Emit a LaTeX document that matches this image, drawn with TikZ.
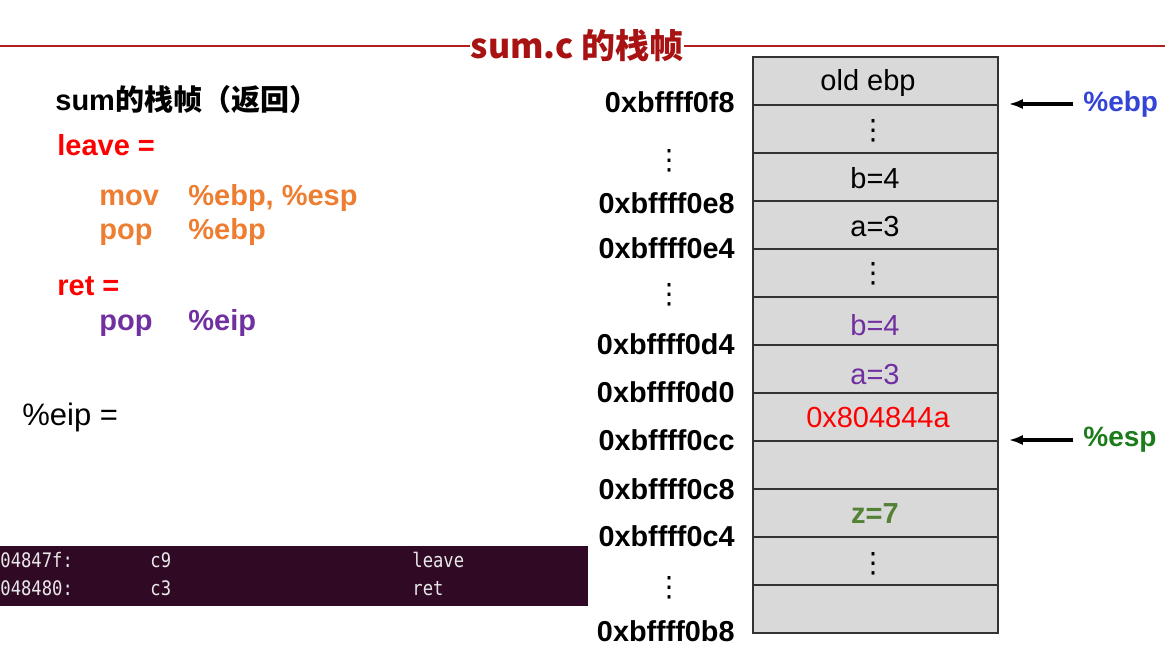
\documentclass[tikz,border=0pt]{standalone}
\usepackage{fontspec}
\setmainfont{Liberation Sans}
\newfontfamily\cjk{Noto Sans CJK SC}
\newfontfamily\codefont{DejaVu Sans Mono}[FakeStretch=0.86]
\newfontfamily\dotfont{DejaVu Sans}
\usetikzlibrary{arrows.meta}
\definecolor{titlered}{HTML}{A81212}
\definecolor{rulered}{HTML}{B42020}
\definecolor{cellgray}{HTML}{D9D9D9}
\definecolor{leaveorange}{HTML}{ED7D31}
\definecolor{retpurple}{HTML}{7030A0}
\definecolor{ebpblue}{HTML}{3344D6}
\definecolor{espgreen}{HTML}{1C7C1C}
\definecolor{zgreen}{HTML}{548235}
\definecolor{termbg}{HTML}{300A24}
\definecolor{termfg}{HTML}{E8E8E8}

\begin{document}
\begin{tikzpicture}[x=0.5pt,y=-0.5pt]
\tikzstyle{every node}+=[inner sep=0pt]
\tikzstyle{cell}=[draw=black!80,fill=cellgray,line width=0.75pt,minimum width=122.5pt,minimum height=24pt]
\tikzstyle{val}=[anchor=base,font=\fontsize{14.5}{17}\selectfont]
\tikzstyle{gap}=[font=\fontsize{14}{17}\selectfont\dotfont]
\tikzstyle{addr}=[anchor=base east,font=\fontsize{14.4}{17}\selectfont\bfseries]
\tikzstyle{asm}=[anchor=base west,font=\fontsize{14.5}{17}\selectfont\bfseries]
\tikzstyle{reg}=[anchor=west,inner sep=5pt,font=\fontsize{14}{17}\selectfont\bfseries]
\tikzstyle{ptr}=[-{Latex[length=7pt,width=5pt]},line width=1.6pt,shorten >=5pt]
\tikzstyle{code}=[anchor=base west,text=termfg,font=\fontsize{10}{12}\selectfont\codefont]
\useasboundingbox (0,0) rectangle (1165,671);
\node[text=titlered,font=\fontsize{17}{20}\selectfont\cjk\bfseries] (title) at (577,46) {sum.c 的栈帧};
\draw[rulered,line width=1pt] (0,46) -- (title.west);
\draw[rulered,line width=1pt] (title.east) -- (1165,46);
\foreach \i in {1,...,12}
  \node[cell] (r\i) at (875.5,{33+48*\i}) {};
\node[val] (oldebp) at (868,90) {old ebp};
\node[gap] (dots1) at (873,131) {⋮};
\node[val] (b1) at (875,188) {b=4};
\node[val] (a1) at (875,236) {a=3};
\node[gap] (dots2) at (873,274) {⋮};
\node[val,text=retpurple] (b2) at (875,335) {b=4};
\node[val,text=retpurple] (a2) at (875,384) {a=3};
\node[val,text=red] (retaddr) at (878,427) {0x804844a};
\node[val,text=zgreen,font=\fontsize{14.5}{17}\selectfont\bfseries] (z) at (875,523) {z=7};
\node[gap] (dots3) at (873,564) {⋮};
\node[addr] (f8) at (735,112) {0xbffff0f8};
\node[gap] (dots4) at (669,161) {⋮};
\node[addr] (e8) at (735,213) {0xbffff0e8};
\node[addr] (e4) at (735,258) {0xbffff0e4};
\node[gap] (dots5) at (669,295) {⋮};
\node[addr] (d4) at (735,354) {0xbffff0d4};
\node[addr] (d0) at (735,402) {0xbffff0d0};
\node[addr] (cc) at (735,450) {0xbffff0cc};
\node[addr] (c8) at (735,499) {0xbffff0c8};
\node[addr] (c4) at (735,546) {0xbffff0c4};
\node[gap] (dots6) at (669,588) {⋮};
\node[addr] (b8) at (735,641) {0xbffff0b8};
\node[reg,text=ebpblue] (ebp) at (1073,104) {\%ebp};
\node[reg,text=espgreen] (esp) at (1073,440) {\%esp};
\draw[ptr] (ebp.west) -- (ebp.west -| r1.east);
\draw[ptr] (esp.west) -- (esp.west -| r8.east);
\node[asm] (frame) at (55,110) {sum{\cjk 的栈帧（返回）}};
\node[asm,text=red] (leave) at (57,155) {leave =};
\node[asm,text=leaveorange] (mov) at (99,205) {mov};
\node[asm,text=leaveorange] (movargs) at (188,205) {\%ebp, \%esp};
\node[asm,text=leaveorange] (pop1) at (99,239) {pop};
\node[asm,text=leaveorange] (pop1arg) at (188,239) {\%ebp};
\node[asm,text=red] (ret) at (57,295) {ret =};
\node[asm,text=retpurple] (pop2) at (99,330) {pop};
\node[asm,text=retpurple] (pop2arg) at (188,330) {\%eip};
\node[anchor=base west,font=\fontsize{15.5}{18}\selectfont] (eip) at (22,425) {\%eip =};
\node[fill=termbg,minimum width=294pt,minimum height=30pt,anchor=north west] (term) at (0,546) {};
\node[code] (l1addr) at (0,567) {04847f:};
\node[code] (l1op) at (150,567) {c9};
\node[code] (l1ins) at (412,567) {leave};
\node[code] (l2addr) at (0,595) {048480:};
\node[code] (l2op) at (150,595) {c3};
\node[code] (l2ins) at (412,595) {ret};
\end{tikzpicture}
\end{document}
